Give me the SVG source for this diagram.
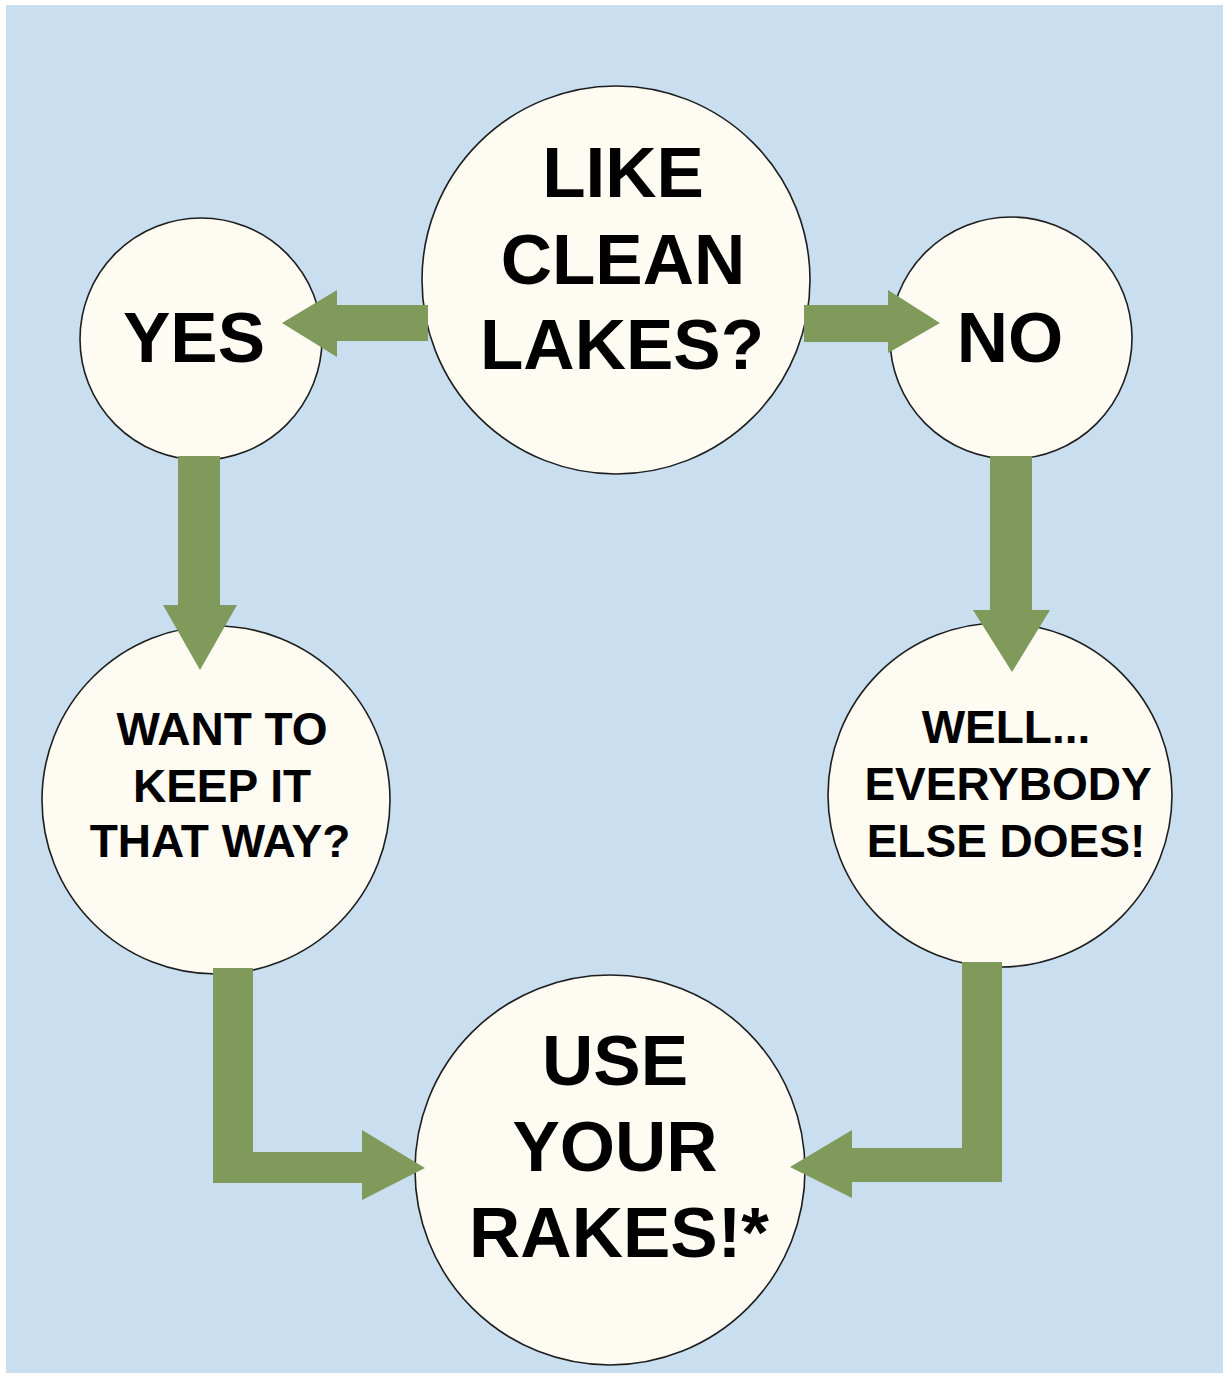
<svg xmlns="http://www.w3.org/2000/svg" width="1230" height="1380" viewBox="0 0 1230 1380">
<style>
.node circle{fill:#fdfbf2;stroke:#1e1e1e;stroke-width:1.6}
.big{font-family:"Liberation Sans",Arial,sans-serif;font-weight:bold;font-size:71px;fill:#000;text-anchor:middle}
.small{font-family:"Liberation Sans",Arial,sans-serif;font-weight:bold;font-size:46px;fill:#000;text-anchor:middle}
.arrow{fill:#7f9a5a}
</style>
<rect x="0" y="0" width="1230" height="1380" fill="#ffffff"/>
<rect x="6" y="5" width="1217" height="1368" fill="#c9dff0"/>
<g id="node-like" class="node">
<circle cx="616" cy="280" r="194"/>
<text class="big" x="623" y="197">LIKE</text>
<text class="big" x="623" y="284">CLEAN</text>
<text class="big" x="622" y="369">LAKES?</text>
</g>
<g id="node-yes" class="node">
<circle cx="201" cy="339" r="121"/>
<text class="big" x="194" y="362">YES</text>
</g>
<g id="node-no" class="node">
<circle cx="1011" cy="338" r="121"/>
<text class="big" x="1010" y="362">NO</text>
</g>
<g id="node-want" class="node">
<circle cx="216" cy="800" r="174"/>
<text class="small" x="222" y="745">WANT TO</text>
<text class="small" x="222" y="802">KEEP IT</text>
<text class="small" x="220" y="857">THAT WAY?</text>
</g>
<g id="node-well" class="node">
<circle cx="1000" cy="795" r="172"/>
<text class="small" x="1006" y="743">WELL...</text>
<text class="small" x="1008" y="800">EVERYBODY</text>
<text class="small" x="1006" y="857">ELSE DOES!</text>
</g>
<g id="node-use" class="node">
<circle cx="610" cy="1170" r="195"/>
<text class="big" x="615" y="1085">USE</text>
<text class="big" x="615" y="1171">YOUR</text>
<text class="big" x="619" y="1257">RAKES!*</text>
</g>
<g id="connectors">
<path class="arrow" d="M428,305 L337,305 L337,290 L282,323 L337,357 L337,341 L428,341 Z"/>
<path class="arrow" d="M804,305 L888,305 L888,290 L940,323 L888,353 L888,342 L804,342 Z"/>
<path class="arrow" d="M178,456 L220,456 L220,605 L237,605 L200,670 L163,605 L178,605 Z"/>
<path class="arrow" d="M990,456 L1032,456 L1032,610 L1050,610 L1012,672 L973,610 L990,610 Z"/>
<path class="arrow" d="M213,968 L253,968 L253,1152 L362,1152 L362,1130 L425,1168 L362,1200 L362,1183 L213,1183 Z"/>
<path class="arrow" d="M962,962 L1002,962 L1002,1182 L852,1182 L852,1198 L790,1167 L852,1130 L852,1148 L962,1148 Z"/>
</g>
</svg>
